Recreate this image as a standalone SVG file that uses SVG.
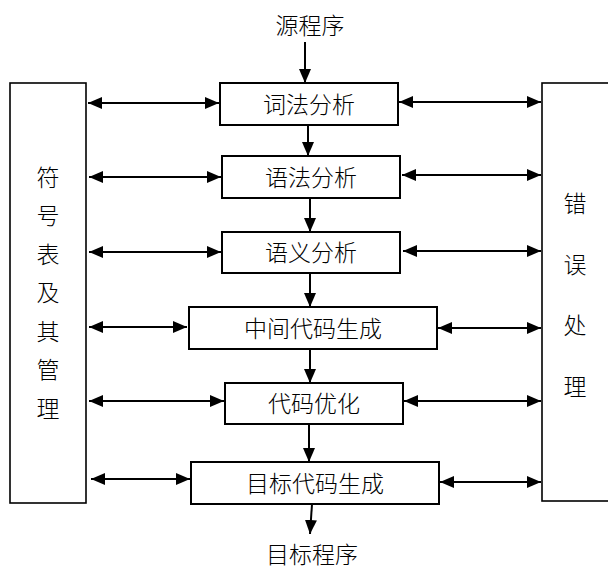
<svg xmlns="http://www.w3.org/2000/svg" width="608" height="569" viewBox="0 0 608 569">
<style>
.box{fill:#fff;stroke:#000;stroke-width:2}
.side{fill:#fff;stroke:#000;stroke-width:1.6}
text{font-family:"Noto Sans CJK SC","Noto Sans CJK JP",sans-serif;font-size:23px;font-weight:300;fill:#000;text-anchor:middle}
.c line{stroke:#000;stroke-width:2}
.d{marker-start:url(#ah);marker-end:url(#ah)}
.s{marker-end:url(#ah)}
</style>
<defs>
<marker id="ah" markerUnits="userSpaceOnUse" markerWidth="14" markerHeight="12" viewBox="0 0 14 12" refX="14" refY="6" orient="auto-start-reverse">
<path d="M0,0 L14,6 L0,12 Z" fill="#000"/>
</marker>
</defs>
<g id="source"><text x="310" y="34">源程序</text></g>
<g id="symtab"><rect class="side" x="10" y="83" width="76" height="420"/>
<text x="48" y="186">符</text><text x="48" y="224">号</text><text x="48" y="263">表</text><text x="48" y="301">及</text><text x="48" y="340">其</text><text x="48" y="378">管</text><text x="48" y="417">理</text></g>
<g id="errors"><rect class="side" x="542" y="83" width="70" height="418"/>
<text x="575" y="212">错</text><text x="575" y="273">误</text><text x="575" y="334">处</text><text x="575" y="395">理</text></g>
<g id="lex"><rect class="box" x="220" y="83" width="178" height="42"/><text x="309" y="113">词法分析</text></g>
<g id="syn"><rect class="box" x="222" y="156" width="178" height="42"/><text x="311" y="186">语法分析</text></g>
<g id="sem"><rect class="box" x="222" y="232" width="178" height="41"/><text x="311" y="261">语义分析</text></g>
<g id="ir"><rect class="box" x="189" y="307" width="248" height="42"/><text x="313" y="337">中间代码生成</text></g>
<g id="opt"><rect class="box" x="225" y="383" width="178" height="41"/><text x="314" y="412">代码优化</text></g>
<g id="gen"><rect class="box" x="191" y="462" width="248" height="42"/><text x="315" y="492">目标代码生成</text></g>
<g id="target"><text x="312" y="563">目标程序</text></g>
<g class="c" id="connectors">
<line class="s" x1="305" y1="42" x2="305" y2="83"/>
<line class="s" x1="308" y1="125" x2="308" y2="156"/>
<line class="s" x1="310" y1="198" x2="310" y2="232"/>
<line class="s" x1="310" y1="273" x2="310" y2="307"/>
<line class="s" x1="310" y1="349" x2="310" y2="383"/>
<line class="s" x1="309" y1="424" x2="309" y2="462"/>
<line class="s" x1="312" y1="504" x2="310" y2="534"/>
<line class="d" x1="88" y1="103" x2="219" y2="103"/>
<line class="d" x1="399" y1="102" x2="541" y2="102"/>
<line class="d" x1="89" y1="177" x2="221" y2="177"/>
<line class="d" x1="402" y1="175" x2="541" y2="175"/>
<line class="d" x1="89" y1="252" x2="221" y2="252"/>
<line class="d" x1="403" y1="251" x2="541" y2="251"/>
<line class="d" x1="89" y1="327" x2="187" y2="327"/>
<line class="d" x1="438" y1="328" x2="541" y2="328"/>
<line class="d" x1="89" y1="401" x2="224" y2="401"/>
<line class="d" x1="404" y1="401" x2="541" y2="401"/>
<line class="d" x1="91" y1="479" x2="190" y2="479"/>
<line class="d" x1="440" y1="482" x2="541" y2="482"/>
</g>
</svg>
